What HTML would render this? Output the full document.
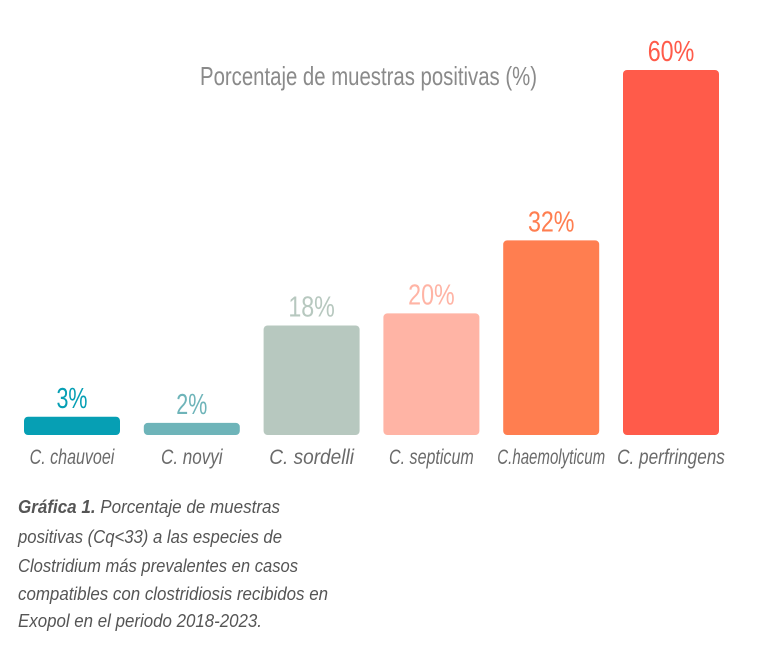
<!DOCTYPE html>
<html><head><meta charset="utf-8"><style>
body{margin:0;background:#fff;width:768px;height:667px;overflow:hidden;}
svg text{font-family:"Liberation Sans",sans-serif;}
</style></head><body>
<svg id="chart" width="768" height="667" style="position:absolute;left:0;top:0">
<text x="200" y="85" font-size="26" fill="#8a8a8a" textLength="337" lengthAdjust="spacingAndGlyphs">Porcentaje de muestras positivas (%)</text>
<g id="bars"></g>
<g font-style="italic" font-size="18" fill="#555">
<text x="18" y="513" textLength="262" lengthAdjust="spacingAndGlyphs"><tspan font-weight="bold">Gráfica 1.</tspan> Porcentaje de muestras</text>
<text x="18" y="543" textLength="264" lengthAdjust="spacingAndGlyphs">positivas (Cq&lt;33) a las especies de</text>
<text x="18" y="572" textLength="280" lengthAdjust="spacingAndGlyphs">Clostridium más prevalentes en casos</text>
<text x="18" y="600" textLength="310" lengthAdjust="spacingAndGlyphs">compatibles con clostridiosis recibidos en</text>
<text x="18" y="627" textLength="244" lengthAdjust="spacingAndGlyphs">Exopol en el periodo 2018-2023.</text>
</g>
</svg>
<script>
const categories=["C. chauvoei","C. novyi","C. sordelli","C. septicum","C.haemolyticum","C. perfringens"];
const values=[3,2,18,20,32,60];
const valueLabels=["3%","2%","18%","20%","32%","60%"];
const colors=["#069fb4","#6eb4b9","#b7c8bf","#ffb4a5","#ff7e50","#ff5b4a"];
const base=435, top0=70, maxV=60;
const y=v=>base-(base-top0)*v/maxV;
const x=i=>24+i*119.8;
const g=document.getElementById('bars');
const ns='http://www.w3.org/2000/svg';
values.forEach((v,i)=>{
 const r=document.createElementNS(ns,'rect');
 
 
 r.setAttribute('x',x(i));r.setAttribute('width',96);
 r.setAttribute('y',y(v));r.setAttribute('height',Math.max(base-y(v),8));
 r.setAttribute('rx',4);r.setAttribute('fill',colors[i]);g.appendChild(r);
 const t=document.createElementNS(ns,'text');
 
 
 t.setAttribute('x',x(i)+48);t.setAttribute('y',y(v)-9);
 t.setAttribute('text-anchor','middle');t.setAttribute('font-size',29);t.setAttribute('fill',colors[i]);
 t.setAttribute('textLength',valueLabels[i].length*15.5);t.setAttribute('lengthAdjust','spacingAndGlyphs');
 t.textContent=valueLabels[i];g.appendChild(t);
 const c=document.createElementNS(ns,'text');
 
 
 c.setAttribute('x',x(i)+48);c.setAttribute('y',464);
 c.setAttribute('text-anchor','middle');c.setAttribute('font-size',21);c.setAttribute('font-style','italic');c.setAttribute('fill','#6a6a6a');
 c.setAttribute('textLength',categories[i].length*7.7);c.setAttribute('lengthAdjust','spacingAndGlyphs');
 c.textContent=categories[i];g.appendChild(c);
});
</script>
</body></html>
